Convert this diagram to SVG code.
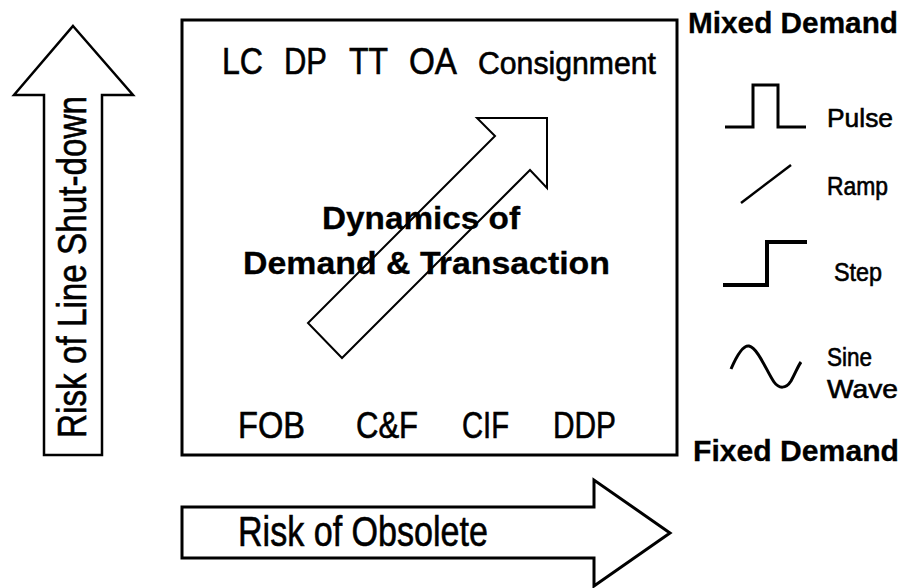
<svg xmlns="http://www.w3.org/2000/svg" width="903" height="588" viewBox="0 0 903 588">
<style>
.t{font-family:"Liberation Sans",Arial,sans-serif;fill:#000;stroke:#000;stroke-width:0.6}
.b{font-weight:bold;stroke-width:0.3}
.sh{fill:#fff;stroke:#000;stroke-linejoin:miter}
.ln{fill:none;stroke:#000}
</style>
<rect width="903" height="588" fill="#fff"/>
<g id="main-box">
<rect x="182" y="20" width="495" height="435" class="sh" stroke-width="3"/>
<text class="t" x="222" y="74" font-size="36" textLength="41" lengthAdjust="spacingAndGlyphs">LC</text>
<text class="t" x="284" y="74" font-size="36" textLength="43" lengthAdjust="spacingAndGlyphs">DP</text>
<text class="t" x="349" y="74" font-size="36" textLength="39" lengthAdjust="spacingAndGlyphs">TT</text>
<text class="t" x="409" y="74" font-size="36" textLength="48" lengthAdjust="spacingAndGlyphs">OA</text>
<text class="t" x="478" y="74" font-size="31" textLength="178" lengthAdjust="spacingAndGlyphs">Consignment</text>
<text class="t" x="238" y="438" font-size="36" textLength="67" lengthAdjust="spacingAndGlyphs">FOB</text>
<text class="t" x="356" y="438" font-size="36" textLength="62" lengthAdjust="spacingAndGlyphs">C&amp;F</text>
<text class="t" x="462" y="438" font-size="36" textLength="47" lengthAdjust="spacingAndGlyphs">CIF</text>
<text class="t" x="553" y="438" font-size="36" textLength="63" lengthAdjust="spacingAndGlyphs">DDP</text>
</g>
<g id="dynamics">
<text class="t b" x="322" y="229" font-size="32" textLength="198" lengthAdjust="spacingAndGlyphs">Dynamics of</text>
<text class="t b" x="243" y="274" font-size="32" textLength="367" lengthAdjust="spacingAndGlyphs">Demand &amp; Transaction</text>
<polygon class="ln" stroke-width="2" points="547,118 477,118 495,136 308,323 342,358 530,170 547,188"/>
</g>
<g id="line-shutdown-arrow">
<polygon class="sh" stroke-width="2.5" points="73,26 133,95 102,95 102,455 44,455 44,95 14,95"/>
<text class="t" transform="translate(86,438) rotate(-90)" font-size="40" textLength="342" lengthAdjust="spacingAndGlyphs">Risk of Line Shut-down</text>
</g>
<g id="obsolete-arrow">
<polygon class="sh" stroke-width="3" points="182,507 594,507 594,480 670,533 594,586 594,558 182,558"/>
<text class="t" x="238" y="546" font-size="42" textLength="250" lengthAdjust="spacingAndGlyphs">Risk of Obsolete</text>
</g>
<g id="legend">
<text class="t b" x="688" y="33" font-size="29" textLength="210" lengthAdjust="spacingAndGlyphs">Mixed Demand</text>
<g id="pulse">
<polyline class="ln" stroke-width="3" points="725,127 753,127 753,85 778,85 778,127 806,127"/>
<text class="t" x="827" y="127" font-size="26" textLength="66" lengthAdjust="spacingAndGlyphs">Pulse</text>
</g>
<g id="ramp">
<path class="ln" stroke-width="2.5" d="M741,203 L791,165"/>
<text class="t" x="827" y="195" font-size="25" textLength="61" lengthAdjust="spacingAndGlyphs">Ramp</text>
</g>
<g id="step">
<polyline class="ln" stroke-width="4" points="723,285 767,285 767,242 807,242"/>
<text class="t" x="834" y="281" font-size="25" textLength="48" lengthAdjust="spacingAndGlyphs">Step</text>
</g>
<g id="sine">
<path class="ln" stroke-width="3" d="M731,369 C737,355 743,345 749,346 C758,348 767,372 774,382 C779,389 786,389 791,381 C795,374 798,366 801,362"/>
<text class="t" x="827" y="366" font-size="25" textLength="45" lengthAdjust="spacingAndGlyphs">Sine</text>
<text class="t" x="827" y="398" font-size="25" textLength="71" lengthAdjust="spacingAndGlyphs">Wave</text>
</g>
<text class="t b" x="693" y="461" font-size="29" textLength="206" lengthAdjust="spacingAndGlyphs">Fixed Demand</text>
</g>
</svg>
